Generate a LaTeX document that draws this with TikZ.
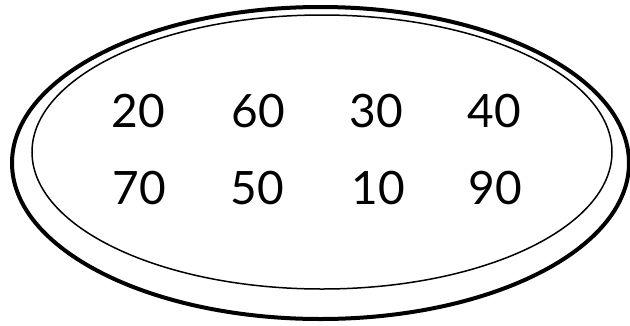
\documentclass[tikz,border=0pt]{standalone}
\usepackage{fontspec}
\setmainfont{Lato}
\tikzset{
  num/.style={inner sep=0pt, font=\fontsize{46}{46}\selectfont},
  outerring/.style={line width=4pt},
  innerring/.style={line width=1.5pt}
}
\begin{document}
\begin{tikzpicture}[x=1pt,y=-1pt]
\useasboundingbox (0,0) rectangle (630,325);
\draw[outerring] (320.5,163) ellipse [x radius=308.5, y radius=156];
\draw[innerring] (322,152) ellipse [x radius=290, y radius=137];
\node[num] (n20) at (138,111) {20};
\node[num] (n60) at (258,111) {60};
\node[num] (n30) at (376,111) {30};
\node[num] (n40) at (494,111) {40};
\node[num] (n70) at (139,188) {70};
\node[num] (n50) at (257,188) {50};
\node[num] (n10) at (378,188) {10};
\node[num] (n90) at (495,188) {90};
\end{tikzpicture}
\end{document}
